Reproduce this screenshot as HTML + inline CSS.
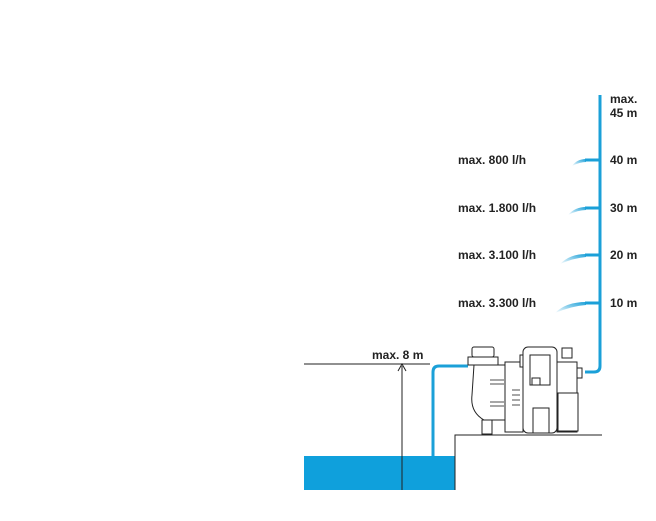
<!DOCTYPE html>
<html><head><style>
body{margin:0;background:#fff;}
svg text{font-family:"Liberation Sans",Arial,sans-serif;font-weight:bold;font-size:12px;fill:#222;}
</style></head><body>
<svg width="656" height="516" viewBox="0 0 656 516" xmlns="http://www.w3.org/2000/svg">
<defs>
<linearGradient id="sp" x1="1" y1="0" x2="0" y2="1">
<stop offset="0" stop-color="#1ba0d8"/><stop offset="1" stop-color="#1ba0d8" stop-opacity="0"/>
</linearGradient>
</defs>
<rect x="304" y="456" width="151" height="34" fill="#0fa0dc"/>
<path d="M455 490 V435 H602" fill="none" stroke="#222" stroke-width="1"/>
<line x1="304" y1="364" x2="430" y2="364" stroke="#222" stroke-width="1"/>
<line x1="402" y1="366" x2="402" y2="490" stroke="#222" stroke-width="1"/>
<path d="M398 371 L402 364 L406 371" fill="none" stroke="#222" stroke-width="1"/>
<text x="372" y="359">max. 8 m</text>
<!-- pipes -->
<path d="M433 456 V372 Q433 366 439 366 H468" fill="none" stroke="#1ba0d8" stroke-width="3"/>
<path d="M600 95 V366 Q600 372 594 372 H585" fill="none" stroke="#1ba0d8" stroke-width="3"/>
<g stroke="#1ba0d8" stroke-width="3">
<line x1="585" y1="160" x2="600" y2="160"/>
<line x1="585" y1="208" x2="600" y2="208"/>
<line x1="585" y1="255" x2="600" y2="255"/>
<line x1="585" y1="303" x2="600" y2="303"/>
</g>
<path d="M586 159 Q577 159 572 166 Q580 162 586 162Z" fill="url(#sp)"/>
<path d="M586 207 Q575 207 568 215 Q578 210 586 210Z" fill="url(#sp)"/>
<path d="M586 254 Q570 254 560 264 Q574 258 586 257Z" fill="url(#sp)"/>
<path d="M586 302 Q566 302 555 313 Q572 306 586 305Z" fill="url(#sp)"/>
<text x="610" y="103">max.</text>
<text x="610" y="117">45 m</text>
<text x="610" y="164">40 m</text>
<text x="610" y="212">30 m</text>
<text x="610" y="259">20 m</text>
<text x="610" y="307">10 m</text>
<text x="458" y="164">max. 800 l/h</text>
<text x="458" y="212">max. 1.800 l/h</text>
<text x="458" y="259">max. 3.100 l/h</text>
<text x="458" y="307">max. 3.300 l/h</text>
<!-- pump -->
<g fill="#fff" stroke="#222" stroke-width="1">
<rect x="472" y="347" width="22" height="10" rx="2"/>
<rect x="468" y="357" width="30" height="8"/>
<path d="M474 365 H505 V420 H484 Q470 412 472 395 Z"/>
<rect x="482" y="420" width="10" height="14"/>
<rect x="505" y="362" width="18" height="70"/>
<rect x="520" y="355" width="10" height="12"/>
<rect x="524" y="358" width="2" height="2"/>
<rect x="523" y="347" width="34" height="86" rx="5"/>
<rect x="530" y="355" width="20" height="30"/>
<rect x="532" y="378" width="8" height="7"/>
<rect x="533" y="408" width="16" height="25"/>
<rect x="557" y="362" width="20" height="70"/>
<rect x="558" y="393" width="20" height="38"/>
<rect x="562" y="348" width="10" height="10"/>
<rect x="577" y="368" width="5" height="10"/>
</g>
<g stroke="#222" stroke-width="0.8">
<line x1="490" y1="380" x2="504" y2="380"/><line x1="490" y1="384" x2="504" y2="384"/>
<line x1="490" y1="402" x2="504" y2="402"/><line x1="490" y1="406" x2="504" y2="406"/>
<line x1="512" y1="390" x2="520" y2="390"/><line x1="512" y1="395" x2="520" y2="395"/>
<line x1="512" y1="400" x2="520" y2="400"/><line x1="512" y1="405" x2="520" y2="405"/>
</g>
</svg>
</body></html>
